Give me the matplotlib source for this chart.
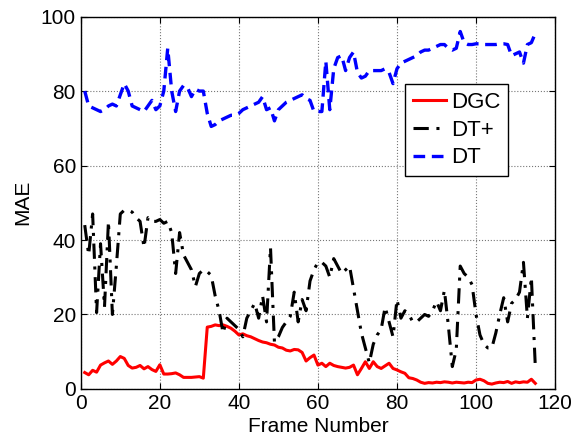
import numpy as np
import matplotlib
matplotlib.use('Agg')
import matplotlib.pyplot as plt

plt.rcParams['font.family'] = ['Liberation Sans', 'DejaVu Sans']

# MAE per frame for the three methods
dgc = [4.4, 3.8, 5.0, 4.5, 6.4, 7.0, 7.5, 6.6, 7.5, 8.7,
       8.2, 6.3, 5.6, 5.8, 6.3, 5.4, 6.0, 5.2, 4.7, 6.5,
       4.0, 4.0, 4.1, 4.3, 3.8, 3.1, 3.1, 3.1, 3.2, 3.3,
       2.9, 16.6, 16.8, 17.2, 17.0, 17.2, 16.8, 16.3, 15.5, 14.5,
       14.8, 14.3, 14.0, 13.5, 13.0, 12.6, 12.4, 12.0, 11.8, 11.2,
       11.0, 10.4, 10.2, 10.6, 10.5, 9.8, 7.5, 8.4, 9.1, 6.4,
       6.9, 6.0, 6.9, 6.3, 6.0, 5.8, 5.6, 5.8, 6.4, 3.8,
       5.5, 7.3, 5.5, 7.3, 6.0, 5.5, 6.2, 6.9, 5.5, 5.1,
       4.6, 4.2, 3.0, 2.8, 2.4, 1.8, 1.5, 1.7, 1.6, 1.8,
       1.7, 1.9, 1.8, 1.6, 1.8, 1.7, 1.6, 1.8, 1.7, 2.4,
       2.6, 2.2, 1.5, 1.3, 1.6, 1.8, 1.7, 2.0, 1.5, 1.9,
       1.7, 1.9, 1.8, 2.6, 1.5]

dt_plus = [44, 36, 47, 20.5, 39, 22, 45, 20, 33, 47,
           48, 48, 47.5, 46, 45, 38, 46, 45, 45, 45.5,
           44.5, 45, 42, 31, 42, 36, 34, 32, 27.5, 31,
           32, 31.5, 30.5, 25, 21, 15, 19, 18, 17, 16,
           14, 19, 21, 23, 19, 25, 18, 38, 12.5, 14,
           16.5, 18, 19.5, 26, 18, 24, 21, 29, 32, 34,
           34, 33, 30, 35, 33, 31, 32, 33, 27, 21,
           15, 11, 7, 12, 14.5, 16, 22, 18, 14, 24,
           19, 21, 20, 18, 18, 19, 20, 19.5, 21, 23.5,
           21, 26.5, 17, 6, 10.5, 33, 31, 30, 28, 20,
           14.5, 12, 11, 11, 15, 20, 24.5, 18, 23, 24,
           26, 34, 19, 30, 6]

dt = [80, 76, 75.5, 75, 74.5, 75, 76, 76.5, 76, 79,
      82, 80, 76, 75.5, 75, 74.5, 76, 77.5, 75, 76,
      80, 91.5, 80, 74.5, 80, 81.5, 81, 78.5, 80.5, 80,
      80, 74, 70.5, 71, 72, 72.5, 73, 73.5, 73.5, 74,
      75, 75.5, 76, 76.5, 77, 78.5, 75, 75.5, 72, 75,
      76, 77, 77.5, 78, 78.5, 79, 78, 77.5, 74.5, 74.5,
      74.5, 88, 75, 86, 89, 89.5, 85.5, 89, 90.5, 85,
      83.5, 84, 85.5, 85.5, 85.5, 85.5, 86, 85, 82, 86,
      87.5, 88, 88.5, 89, 89.5, 90.5, 91, 91, 91.5, 92,
      92.5, 92.5, 91.5, 91, 91.5, 96, 93, 92.5, 92.5, 92.7,
      92.7, 92.5, 92.5, 92.5, 92.5, 92.7, 92.7, 92.5, 89.5, 90,
      90.5, 87.5, 92.5, 93, 95.5]

frames = np.arange(1, len(dgc) + 1)

fig = plt.figure(figsize=(5.77, 4.37), dpi=100)
ax = fig.add_axes([0.140, 0.110, 0.822, 0.852])

ax.plot(frames, dgc, color='red', lw=2.2, label='DGC')
ax.plot(frames, dt_plus, color='black', lw=2.2, dashes=(5, 2.5, 1, 2.5), label='DT+')
ax.plot(frames, dt, color='blue', lw=2.4, dashes=(3.5, 2), label='DT')

ax.set_xlim(0, 120)
ax.set_ylim(0, 100)
ax.set_xticks(range(0, 121, 20))
ax.set_yticks(range(0, 101, 20))
ax.grid(True, linestyle=':', color='#777777', linewidth=0.8)
ax.tick_params(direction='in', top=True, right=True, labelsize=15, length=4)
for s in ax.spines.values():
    s.set_linewidth(1.0)

ax.set_xlabel('Frame Number', fontsize=15, labelpad=3)
ax.set_ylabel('MAE', fontsize=15, labelpad=6)

leg = ax.legend(loc='upper left', bbox_to_anchor=(0.684, 0.818), fontsize=16,
                handlelength=1.5, handletextpad=0.2, borderpad=0.35,
                labelspacing=0.3, borderaxespad=0, fancybox=False, framealpha=1)
leg.get_frame().set_edgecolor('black')
leg.get_frame().set_linewidth(1.0)

fig.savefig('out.png', dpi=100)
